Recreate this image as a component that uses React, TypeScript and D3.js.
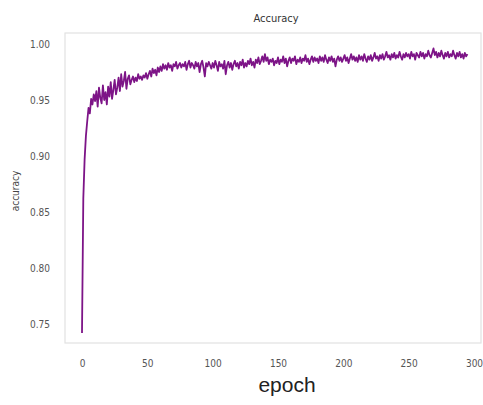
import React, { useRef, useEffect } from 'react';
import * as d3 from 'd3';

// accuracy per epoch
const accuracy: number[] = [
  0.742, 0.862, 0.897, 0.918, 0.931, 0.943, 0.938, 0.951, 0.946, 0.955,
  0.949, 0.958, 0.944, 0.961, 0.952, 0.947, 0.963, 0.950, 0.957, 0.946,
  0.962, 0.953, 0.966, 0.951, 0.959, 0.968, 0.955, 0.961, 0.970, 0.958,
  0.973, 0.962, 0.967, 0.975, 0.960, 0.969, 0.972, 0.964, 0.968, 0.971,
  0.966, 0.970, 0.967, 0.973, 0.969, 0.971, 0.968, 0.972, 0.970, 0.974,
  0.969, 0.973, 0.976, 0.971, 0.978, 0.974, 0.977, 0.972, 0.979, 0.975,
  0.980, 0.976, 0.982, 0.978, 0.981, 0.977, 0.983, 0.979, 0.981, 0.976,
  0.982, 0.980, 0.984, 0.978, 0.981, 0.983, 0.979, 0.982, 0.980, 0.984,
  0.977, 0.982, 0.985, 0.979, 0.983, 0.981, 0.978, 0.984, 0.980, 0.983,
  0.975, 0.982, 0.985, 0.979, 0.971, 0.983, 0.980, 0.984, 0.981, 0.978,
  0.983, 0.979, 0.985, 0.981, 0.976, 0.984, 0.980, 0.982, 0.978, 0.985,
  0.973, 0.981, 0.984, 0.979, 0.983, 0.977, 0.982, 0.985, 0.980, 0.983,
  0.978, 0.984, 0.981, 0.986, 0.979, 0.983, 0.980, 0.985, 0.982, 0.987,
  0.981, 0.984, 0.979, 0.986, 0.983, 0.988, 0.982, 0.985, 0.989, 0.984,
  0.991, 0.985, 0.988, 0.982, 0.986, 0.984, 0.987, 0.981, 0.985, 0.983,
  0.988, 0.982, 0.986, 0.984, 0.989, 0.983, 0.987, 0.980, 0.985, 0.988,
  0.983, 0.987, 0.985, 0.989, 0.982, 0.986, 0.984, 0.988, 0.983, 0.987,
  0.985, 0.990, 0.984, 0.987, 0.982, 0.986, 0.989, 0.984, 0.988, 0.985,
  0.987, 0.983, 0.989, 0.985, 0.988, 0.984, 0.990, 0.986, 0.983, 0.988,
  0.985, 0.989, 0.984, 0.987, 0.980, 0.986, 0.989, 0.985, 0.988, 0.984,
  0.987, 0.990, 0.985, 0.988, 0.983, 0.987, 0.991, 0.986, 0.989, 0.985,
  0.988, 0.984, 0.990, 0.986, 0.989, 0.985, 0.991, 0.987, 0.984, 0.989,
  0.986, 0.990, 0.985, 0.988, 0.992, 0.987, 0.989, 0.985, 0.990, 0.987,
  0.991, 0.986, 0.989, 0.993, 0.988, 0.990, 0.986, 0.991, 0.988, 0.992,
  0.987, 0.990, 0.988, 0.993, 0.989, 0.986, 0.991, 0.988, 0.992, 0.989,
  0.991, 0.987, 0.993, 0.989, 0.991, 0.986, 0.992, 0.990, 0.988, 0.993,
  0.989, 0.992, 0.987, 0.991, 0.989, 0.994, 0.990, 0.988, 0.992, 0.996,
  0.990, 0.993, 0.988, 0.992, 0.989, 0.994, 0.990, 0.987, 0.992, 0.989,
  0.993, 0.988, 0.991, 0.989, 0.994, 0.990, 0.987, 0.992, 0.989, 0.993,
  0.988, 0.991, 0.987, 0.992, 0.989, 0.991,
];

const xTicks = [0, 50, 100, 150, 200, 250, 300];
const yTicks = [0.75, 0.8, 0.85, 0.9, 0.95, 1.0];

export default function App() {
  const svgRef = useRef<SVGSVGElement>(null);

  useEffect(() => {
    const svg = d3.select(svgRef.current);
    svg.selectAll('*').remove();

    const x = d3.scaleLinear().domain([0, 300]).range([82, 474]);
    const y = d3.scaleLinear().domain([0.75, 1.0]).range([324, 44]);

    // plot frame
    svg.append('rect')
      .attr('x', 65).attr('y', 33)
      .attr('width', 416).attr('height', 310)
      .attr('fill', 'none')
      .attr('stroke', '#e2e2e2')
      .attr('stroke-width', 1.2);

    const xAxis = svg.append('g')
      .attr('transform', 'translate(0,357)')
      .call(d3.axisBottom(x).tickValues(xTicks).tickSize(0).tickFormat(d3.format('d')));
    xAxis.select('.domain').remove();
    xAxis.selectAll('text')
      .attr('font-family', 'DejaVu Sans Condensed, DejaVu Sans')
      .attr('font-size', 10)
      .attr('fill', '#555');

    const yAxis = svg.append('g')
      .attr('transform', 'translate(53,0)')
      .call(d3.axisLeft(y).tickValues(yTicks).tickSize(0).tickFormat(d3.format('.2f')));
    yAxis.select('.domain').remove();
    yAxis.selectAll('text')
      .attr('font-family', 'DejaVu Sans Condensed, DejaVu Sans')
      .attr('font-size', 10)
      .attr('fill', '#555');

    const line = d3.line<number>()
      .x((d, i) => x(i))
      .y(d => y(d));

    svg.append('path')
      .datum(accuracy)
      .attr('d', line)
      .attr('fill', 'none')
      .attr('stroke', '#7d1487')
      .attr('stroke-width', 1.8)
      .attr('stroke-linejoin', 'round');

    svg.append('text')
      .attr('x', 276).attr('y', 22)
      .attr('text-anchor', 'middle')
      .attr('font-family', 'DejaVu Sans Condensed, DejaVu Sans')
      .attr('font-size', 11)
      .attr('fill', '#333')
      .text('Accuracy');

    svg.append('text')
      .attr('transform', 'translate(19,191) rotate(-90)')
      .attr('text-anchor', 'middle')
      .attr('font-family', 'DejaVu Sans Condensed, DejaVu Sans')
      .attr('font-size', 10)
      .attr('fill', '#444')
      .text('accuracy');

    svg.append('text')
      .attr('x', 287).attr('y', 392)
      .attr('text-anchor', 'middle')
      .attr('font-family', 'Liberation Sans, Arial, sans-serif')
      .attr('font-size', 21)
      .attr('fill', '#222')
      .text('epoch');
  }, []);

  return (
    <svg ref={svgRef} width={483} height={405}
      style={{ position: 'absolute', left: 0, top: 0, background: '#fff' }} />
  );
}
